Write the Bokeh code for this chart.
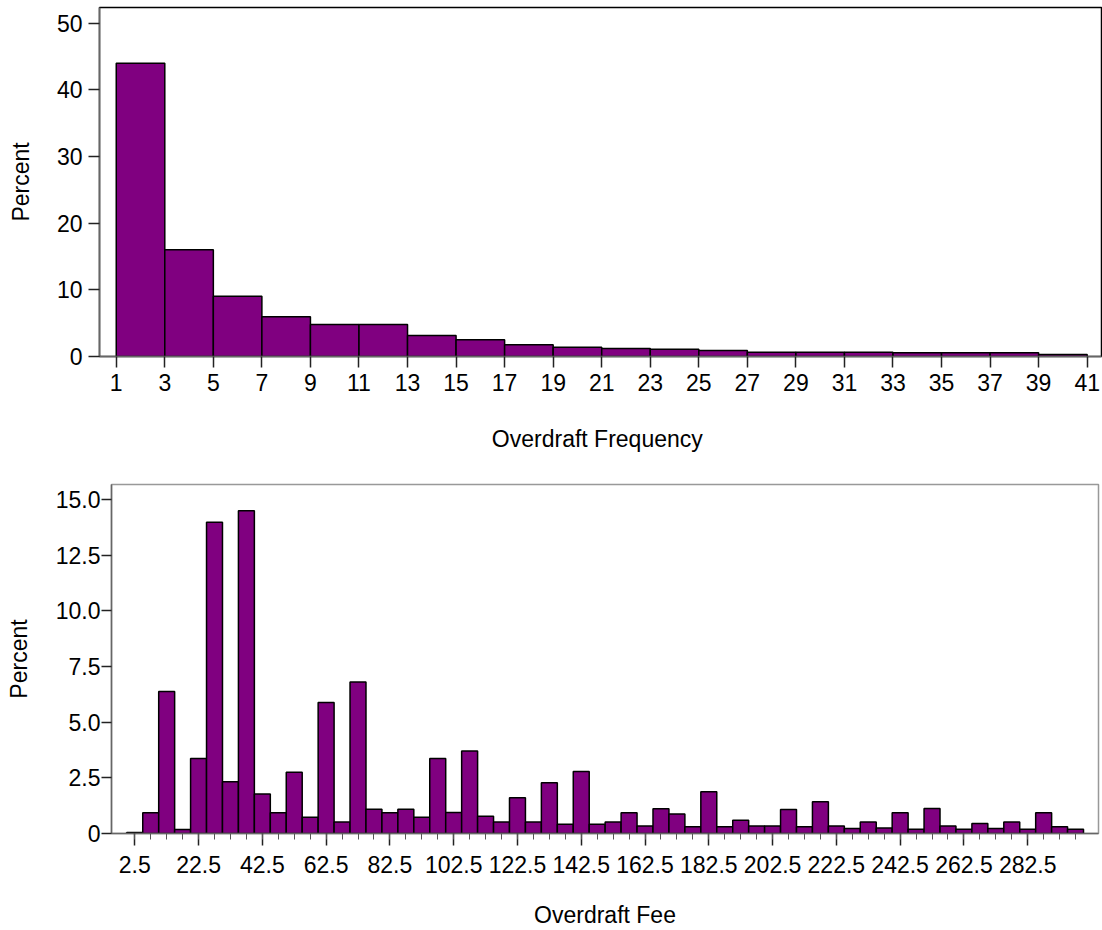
from bokeh.plotting import figure
from bokeh.models import Range1d, FixedTicker, ColumnDataSource
from bokeh.embed import file_html
from bokeh.resources import INLINE

# ---- Top histogram: Overdraft Frequency ----
freq_bin_left = [1, 3, 5, 7, 9, 11, 13, 15, 17, 19, 21, 23, 25, 27, 29, 31, 33, 35, 37, 39]
freq_bin_right = [3, 5, 7, 9, 11, 13, 15, 17, 19, 21, 23, 25, 27, 29, 31, 33, 35, 37, 39, 41]
freq_percent = [44.0, 16.0, 9.05, 5.95, 4.8, 4.8, 3.15, 2.5, 1.75, 1.4,
                1.2, 1.1, 0.9, 0.65, 0.65, 0.65, 0.55, 0.55, 0.55, 0.3]
freq_ticks = [1, 3, 5, 7, 9, 11, 13, 15, 17, 19, 21, 23, 25, 27, 29, 31, 33, 35, 37, 39, 41]
freq_y_ticks = [0, 10, 20, 30, 40, 50]

# ---- Bottom histogram: Overdraft Fee (bin midpoints, width 5) ----
fee_mid = [2.5, 7.5, 12.5, 17.5, 22.5, 27.5, 32.5, 37.5, 42.5, 47.5,
           52.5, 57.5, 62.5, 67.5, 72.5, 77.5, 82.5, 87.5, 92.5, 97.5,
           102.5, 107.5, 112.5, 117.5, 122.5, 127.5, 132.5, 137.5, 142.5, 147.5,
           152.5, 157.5, 162.5, 167.5, 172.5, 177.5, 182.5, 187.5, 192.5, 197.5,
           202.5, 207.5, 212.5, 217.5, 222.5, 227.5, 232.5, 237.5, 242.5, 247.5,
           252.5, 257.5, 262.5, 267.5, 272.5, 277.5, 282.5, 287.5, 292.5, 297.5]
fee_percent = [0.05, 0.93, 6.38, 0.18, 3.37, 13.98, 2.32, 14.49, 1.77, 0.93,
               2.75, 0.73, 5.88, 0.52, 6.8, 1.09, 0.93, 1.09, 0.73, 3.37,
               0.94, 3.70, 0.78, 0.52, 1.60, 0.52, 2.28, 0.42, 2.78, 0.42,
               0.52, 0.93, 0.34, 1.11, 0.87, 0.30, 1.87, 0.30, 0.60, 0.34,
               0.34, 1.08, 0.30, 1.42, 0.34, 0.22, 0.52, 0.25, 0.93, 0.19,
               1.12, 0.34, 0.19, 0.45, 0.22, 0.52, 0.19, 0.93, 0.30, 0.19]
fee_bin_width = 5
fee_major_ticks = [2.5, 22.5, 42.5, 62.5, 82.5, 102.5, 122.5, 142.5,
                   162.5, 182.5, 202.5, 222.5, 242.5, 262.5, 282.5]
fee_y_ticks = [0, 2.5, 5, 7.5, 10, 12.5, 15]
fee_y_labels = ["0", "2.5", "5.0", "7.5", "10.0", "12.5", "15.0"]

FONT = "Liberation Sans"
BAR = "#800080"


def style(p, outline_color):
    p.toolbar_location = None
    p.xgrid.visible = False
    p.ygrid.visible = False
    p.outline_line_color = outline_color
    p.outline_line_width = 1.5
    p.background_fill_color = "white"
    p.border_fill_color = "white"
    for ax in (p.xaxis[0], p.yaxis[0]):
        ax.axis_line_color = "#666666"
        ax.axis_line_width = 1.5
        ax.major_tick_line_color = "#222222"
        ax.major_tick_line_width = 1.5
        ax.minor_tick_line_color = "#555555"
        ax.major_tick_in = 0
        ax.minor_tick_in = 0
        ax.major_label_text_font = FONT
        ax.major_label_text_font_size = "23px"
        ax.major_label_text_color = "black"
        ax.axis_label_text_font = FONT
        ax.axis_label_text_font_size = "23px"
        ax.axis_label_text_font_style = "normal"
        ax.axis_label_text_color = "black"


# ---------------- Top figure ----------------
p1 = figure(width=1102, height=470, output_backend="svg", toolbar_location=None,
            x_range=Range1d(0.31, 41.59), y_range=Range1d(0, 52.35),
            min_border_left=99, min_border_right=1, min_border_top=7,
            min_border_bottom=114)
src1 = ColumnDataSource(dict(left=freq_bin_left, right=freq_bin_right, top=freq_percent))
p1.quad(left="left", right="right", bottom=0, top="top", source=src1,
        fill_color=BAR, line_color="black", line_width=1.5)
style(p1, "black")
p1.xaxis[0].ticker = FixedTicker(ticks=freq_ticks)
p1.yaxis[0].ticker = FixedTicker(ticks=freq_y_ticks)
p1.xaxis[0].minor_tick_out = 0
p1.yaxis[0].minor_tick_out = 0
p1.xaxis[0].major_tick_out = 11
p1.yaxis[0].major_tick_out = 11
p1.xaxis[0].major_label_standoff = 6
p1.yaxis[0].major_label_standoff = 6
p1.xaxis[0].axis_label = "Overdraft  Frequency"
p1.yaxis[0].axis_label = "Percent"
p1.xaxis[0].axis_label_standoff = 32
p1.yaxis[0].axis_label_standoff = 20

# ---------------- Bottom figure ----------------
fee_left = [m - fee_bin_width / 2 for m in fee_mid]
fee_right = [m + fee_bin_width / 2 for m in fee_mid]
p2 = figure(width=1102, height=460, output_backend="svg", toolbar_location=None,
            x_range=Range1d(-4.8, 304.7), y_range=Range1d(0, 15.67),
            min_border_left=111, min_border_right=4, min_border_top=14,
            min_border_bottom=97)
src2 = ColumnDataSource(dict(left=fee_left, right=fee_right, top=fee_percent))
p2.quad(left="left", right="right", bottom=0, top="top", source=src2,
        fill_color=BAR, line_color="black", line_width=1.5)
style(p2, "#999999")
p2.xaxis[0].ticker = FixedTicker(ticks=fee_major_ticks, minor_ticks=fee_mid)
p2.yaxis[0].ticker = FixedTicker(ticks=fee_y_ticks)
p2.yaxis[0].major_label_overrides = {t: l for t, l in zip(fee_y_ticks, fee_y_labels)}
p2.xaxis[0].major_label_overrides = {t: f"{t:g}" for t in fee_major_ticks}
p2.xaxis[0].major_tick_out = 12
p2.xaxis[0].minor_tick_out = 6
p2.yaxis[0].major_tick_out = 10
p2.yaxis[0].minor_tick_out = 0
p2.xaxis[0].major_label_standoff = 10
p2.yaxis[0].major_label_standoff = 1
p2.xaxis[0].axis_label = "Overdraft Fee"
p2.yaxis[0].axis_label = "Percent"
p2.xaxis[0].axis_label_standoff = 26
p2.yaxis[0].axis_label_standoff = 21

open("out.html", "w").write(file_html([p1, p2], INLINE))
